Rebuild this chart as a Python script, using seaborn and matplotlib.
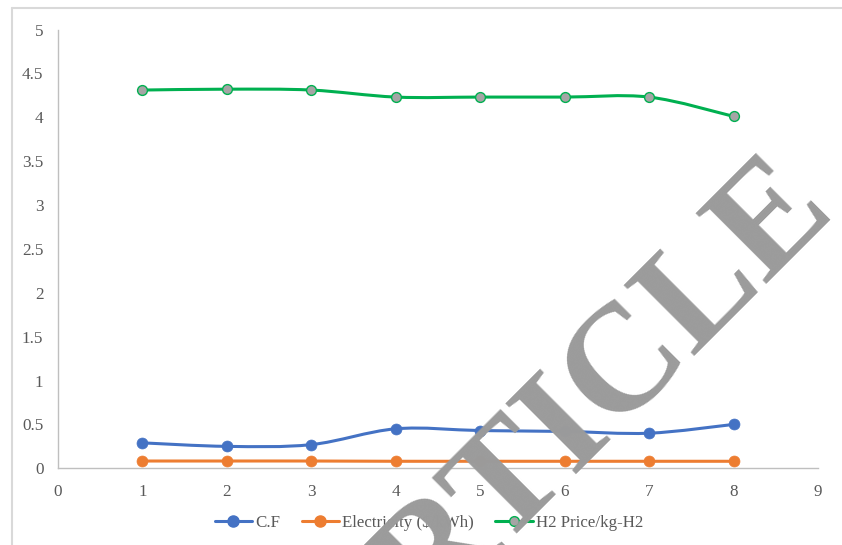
import numpy as np
import pandas as pd
import matplotlib
matplotlib.use("Agg")
import matplotlib.pyplot as plt
from matplotlib.path import Path
from matplotlib.patches import PathPatch
from matplotlib.lines import Line2D
import seaborn as sns

# ---- data ----
x_vals = [1, 2, 3, 4, 5, 6, 7, 8]
cf = [0.29, 0.25, 0.27, 0.45, 0.43, 0.42, 0.40, 0.50]
electricity = [0.083, 0.083, 0.083, 0.08, 0.08, 0.08, 0.08, 0.08]
h2_price = [4.31, 4.32, 4.31, 4.23, 4.23, 4.23, 4.23, 4.01]
series_names = ["C.F", "Electricity ($/kWh)", "H2 Price/kg-H2"]
x_ticks = [0, 1, 2, 3, 4, 5, 6, 7, 8, 9]
y_ticks = [0, 0.5, 1, 1.5, 2, 2.5, 3, 3.5, 4, 4.5, 5]
y_tick_labels = ["0", "0.5", "1", "1.5", "2", "2.5", "3", "3.5", "4", "4.5", "5"]

colors = ["#4472C4", "#ED7D31", "#00B050"]
marker_faces = ["#4472C4", "#ED7D31", "#A5A5A5"]

sns.set_theme(style="white")
plt.rcParams["font.family"] = ["Liberation Serif", "DejaVu Serif"]

fig = plt.figure(figsize=(8.42, 5.45), dpi=100)
ax = fig.add_axes([58 / 842, 1 - 468.3 / 545, (818 - 58) / 842, (468.3 - 29.5) / 545])

df = pd.DataFrame({"x": x_vals * 3,
                   "value": cf + electricity + h2_price,
                   "series": [series_names[0]] * 8 + [series_names[1]] * 8 + [series_names[2]] * 8})


def smooth_path(xs, ys):
    """Excel-like smoothed curve as cubic Bezier segments through the points."""
    pts = np.column_stack([xs, ys]).astype(float)
    n = len(pts)
    verts = [pts[0]]
    codes = [Path.MOVETO]
    for i in range(n - 1):
        p0 = pts[i - 1] if i > 0 else pts[i]
        p1 = pts[i]
        p2 = pts[i + 1]
        p3 = pts[i + 2] if i + 2 < n else pts[i + 1]
        c1 = p1 + (p2 - p0) / 6.0
        c2 = p2 - (p3 - p1) / 6.0
        verts += [c1, c2, p2]
        codes += [Path.CURVE4] * 3
    return Path(verts, codes)


for name, col, face in zip(series_names, colors, marker_faces):
    sub = df[df["series"] == name]
    patch = PathPatch(smooth_path(sub["x"].values, sub["value"].values),
                      facecolor="none", edgecolor=col, lw=2.2, zorder=2,
                      capstyle="round", joinstyle="round")
    ax.add_patch(patch)
    if name == series_names[2]:
        sns.scatterplot(data=sub, x="x", y="value", ax=ax, color=face,
                        edgecolor=col, linewidth=1.0, s=50, zorder=3, legend=False)
    else:
        sns.scatterplot(data=sub, x="x", y="value", ax=ax, color=face,
                        edgecolor=col, linewidth=0.5, s=62, zorder=3, legend=False)

ax.set_xlim(0, 9)
ax.set_ylim(0, 5)
ax.set_xticks(x_ticks)
ax.set_xticklabels([str(t) for t in x_ticks])
ax.set_yticks(y_ticks)
ax.set_yticklabels(y_tick_labels)
ax.set_xlabel("")
ax.set_ylabel("")
ax.tick_params(axis="both", length=0, labelsize=12.3, labelcolor="#595959")
ax.tick_params(axis="y", pad=10.5)
ax.tick_params(axis="x", pad=11)
for s in ["top", "right"]:
    ax.spines[s].set_visible(False)
for s in ["left", "bottom"]:
    ax.spines[s].set_color("#BFBFBF")
    ax.spines[s].set_linewidth(1.0)
ax.set_facecolor("none")

handles = []
for name, col, face in zip(series_names, colors, marker_faces):
    if name == series_names[2]:
        h = Line2D([0], [0], color=col, lw=2.2, marker="o", markersize=7,
                   markerfacecolor=face, markeredgecolor=col, markeredgewidth=1.0)
    else:
        h = Line2D([0], [0], color=col, lw=2.2, marker="o", markersize=8,
                   markerfacecolor=face, markeredgecolor=col)
    handles.append(h)
leg = fig.legend(handles, series_names, loc="center", bbox_to_anchor=(429 / 842, 1 - 523 / 545),
                 ncol=3, frameon=False, fontsize=12.2, handlelength=2.2, handletextpad=0.2,
                 columnspacing=1.25, labelcolor="#595959")

# outer chart border (partial, as in the reference)
fig.add_artist(Line2D([12 / 842, 12 / 842], [0, 1 - 8 / 545], color="#D9D9D9", lw=1.5,
                      transform=fig.transFigure))
fig.add_artist(Line2D([12 / 842, 1], [1 - 8 / 545, 1 - 8 / 545], color="#D9D9D9", lw=1.5,
                      transform=fig.transFigure))

# watermark
fig.text(593 / 842, 1 - 456 / 545, "ARTICLE", rotation=45, rotation_mode="anchor",
         ha="center", va="baseline", fontsize=110, fontweight="bold", color="#9B9B9B",
         family=["Liberation Serif", "DejaVu Serif"], zorder=10)

fig.savefig("out.png", dpi=100)
